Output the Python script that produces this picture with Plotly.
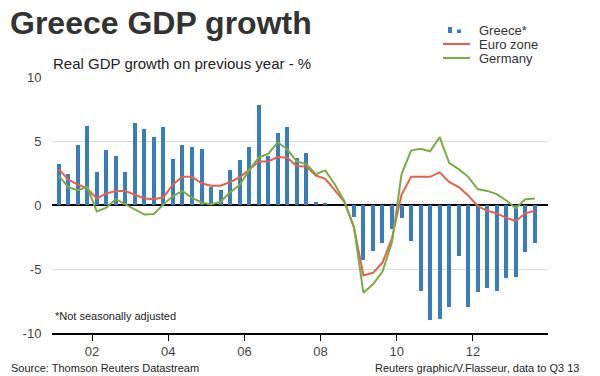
import plotly.graph_objects as go

# ---- data ----
years = list(range(2001, 2014))
quarter_labels = [f"{y}Q{q}" for y in years for q in range(1, 5)][:51]  # 2001Q1 .. 2013Q3

greece = [3.2, 2.4, 4.7, 6.2,
          2.6, 4.3, 3.8, 2.6,
          6.4, 5.9, 5.3, 6.1,
          3.6, 4.7, 4.5, 4.4,
          1.4, 1.15, 2.7, 3.5,
          4.5, 7.8, 3.8, 5.6,
          6.1, 3.7, 4.1, 0.2,
          0.1, 0.0, 0.0, -0.95,
          -4.3, -3.6, -3.0, -1.9,
          -1.05, -2.8, -6.7, -9.0,
          -8.9, -7.95, -4.0, -7.95,
          -6.8, -6.45, -6.7, -5.7,
          -5.6, -3.7, -3.0]

euro_zone = [2.8, 2.0, 1.6, 1.3,
             0.5, 0.9, 1.1, 1.1,
             0.8, 0.5, 0.45, 0.6,
             1.6, 2.2, 2.2, 1.7,
             1.5, 1.5, 1.8, 2.15,
             2.75, 3.4, 3.4, 3.75,
             3.7, 3.05, 3.0, 2.3,
             2.05, 1.15, 0.25, -1.75,
             -5.5, -5.3, -4.5, -2.6,
             0.8, 2.2, 2.2, 2.2,
             2.55, 1.8, 1.4, 0.75,
             -0.1, -0.45, -0.65, -1.0,
             -1.25, -0.65, -0.45]

germany = [2.3, 1.4, 1.15, 1.4,
           -0.5, -0.2, 0.45, 0.05,
           -0.35, -0.75, -0.7, 0.05,
           0.7, 1.1, 0.55, 0.2,
           0.05, 0.25, 1.0, 1.55,
           2.7, 3.7, 4.0, 4.9,
           4.35, 3.4, 3.2, 2.4,
           2.7, 1.6, 0.3, -1.7,
           -6.85, -6.2, -5.2, -2.9,
           2.4, 4.25, 4.4, 4.2,
           5.3, 3.3, 2.8, 2.2,
           1.25, 1.1, 0.85, 0.35,
           -0.25, 0.45, 0.5]

x_tick_vals = [2002, 2004, 2006, 2008, 2010, 2012]
x_tick_text = ["02", "04", "06", "08", "10", "12"]
y_tick_vals = [-10, -5, 0, 5, 10]
y_tick_text = ["-10", "-5", "0", "5", "10"]

# quarter label -> fractional year at the middle of the quarter
def qpos(label):
    y, q = label.split("Q")
    return int(y) + (int(q) - 0.5) / 4.0

x = [qpos(l) for l in quarter_labels]

BLUE = "#3A7DBF"
RED = "#E8604A"
GREEN = "#79AD3F"
FONT = "Liberation Sans, Arial, sans-serif"
TXT = "#333333"

fig = go.Figure()
fig.add_trace(go.Bar(x=x, y=greece, name="Greece*", marker_color=BLUE,
                     marker_line_width=0, width=0.105, showlegend=False))
fig.add_trace(go.Scatter(x=x, y=euro_zone, name="Euro zone", mode="lines",
                         line=dict(color=RED, width=2), showlegend=False))
fig.add_trace(go.Scatter(x=x, y=germany, name="Germany", mode="lines",
                         line=dict(color=GREEN, width=2), showlegend=False))

L, R, T, B = 52, 52, 77, 43
W, H = 600, 376
PW, PH = W - L - R, H - T - B


def px(xp):
    return (xp - L) / PW


def py(yp):
    return (H - B - yp) / PH


annotations = [
    dict(text="<b>Greece GDP growth</b>", x=px(8), y=py(23), xref="paper", yref="paper",
         xanchor="left", yanchor="middle", showarrow=False,
         font=dict(family=FONT, size=32, color=TXT)),
    dict(text="Real GDP growth on previous year - %", x=px(51), y=py(63), xref="paper",
         yref="paper", xanchor="left", yanchor="middle", showarrow=False,
         font=dict(family=FONT, size=15, color="#222222")),
    dict(text="*Not seasonally adjusted", x=px(53), y=py(316), xref="paper", yref="paper",
         xanchor="left", yanchor="middle", showarrow=False,
         font=dict(family=FONT, size=11, color="#222222")),
    dict(text="Source: Thomson Reuters Datastream", x=px(9), y=py(368), xref="paper",
         yref="paper", xanchor="left", yanchor="middle", showarrow=False,
         font=dict(family=FONT, size=11, color="#222222")),
    dict(text="Reuters graphic/V.Flasseur, data to Q3 13", x=px(581), y=py(368),
         xref="paper", yref="paper", xanchor="right", yanchor="middle", showarrow=False,
         font=dict(family=FONT, size=11, color="#222222")),
]
legend_names = ["Greece*", "Euro zone", "Germany"]
legend_y = [30, 44, 58]
for name, ly in zip(legend_names, legend_y):
    annotations.append(dict(text=name, x=px(477), y=py(ly), xref="paper", yref="paper",
                            xanchor="left", yanchor="middle", showarrow=False,
                            font=dict(family=FONT, size=13, color=TXT)))

shapes = [
    dict(type="rect", xref="paper", yref="paper", x0=px(448), x1=px(452), y0=py(33), y1=py(27),
         fillcolor=BLUE, line_width=0),
    dict(type="rect", xref="paper", yref="paper", x0=px(457), x1=px(461), y0=py(33), y1=py(29.5),
         fillcolor=BLUE, line_width=0),
    dict(type="line", xref="paper", yref="paper", x0=px(443), x1=px(470), y0=py(44), y1=py(44),
         line=dict(color=RED, width=2)),
    dict(type="line", xref="paper", yref="paper", x0=px(443), x1=px(470), y0=py(58), y1=py(58),
         line=dict(color=GREEN, width=2)),
]

fig.update_layout(
    width=W, height=H,
    margin=dict(l=L, r=R, t=T, b=B, pad=0),
    paper_bgcolor="white", plot_bgcolor="white",
    font=dict(family=FONT, size=13, color=TXT),
    bargap=0,
    annotations=annotations,
    shapes=shapes,
    showlegend=False,
)
fig.update_xaxes(range=[2000.95, 2013.97], tickvals=x_tick_vals, ticktext=x_tick_text,
                 showgrid=False, zeroline=False, showline=True, linecolor="black",
                 linewidth=1.5, ticks="outside", ticklen=6, tickcolor="black", tickwidth=1,
                 tickfont=dict(family=FONT, size=13, color="#444444"))
fig.update_yaxes(range=[-10, 10], tickvals=y_tick_vals, ticktext=y_tick_text,
                 showgrid=True, gridcolor="#D9D9D9", gridwidth=1,
                 zeroline=True, zerolinecolor="black", zerolinewidth=1.5,
                 showline=False, ticks="outside", ticklen=7, tickcolor="rgba(0,0,0,0)",
                 tickfont=dict(family=FONT, size=13, color="#444444"))

fig.write_html("out.html", config={"displayModeBar": False},
               post_script="document.body.style.margin='0';")
